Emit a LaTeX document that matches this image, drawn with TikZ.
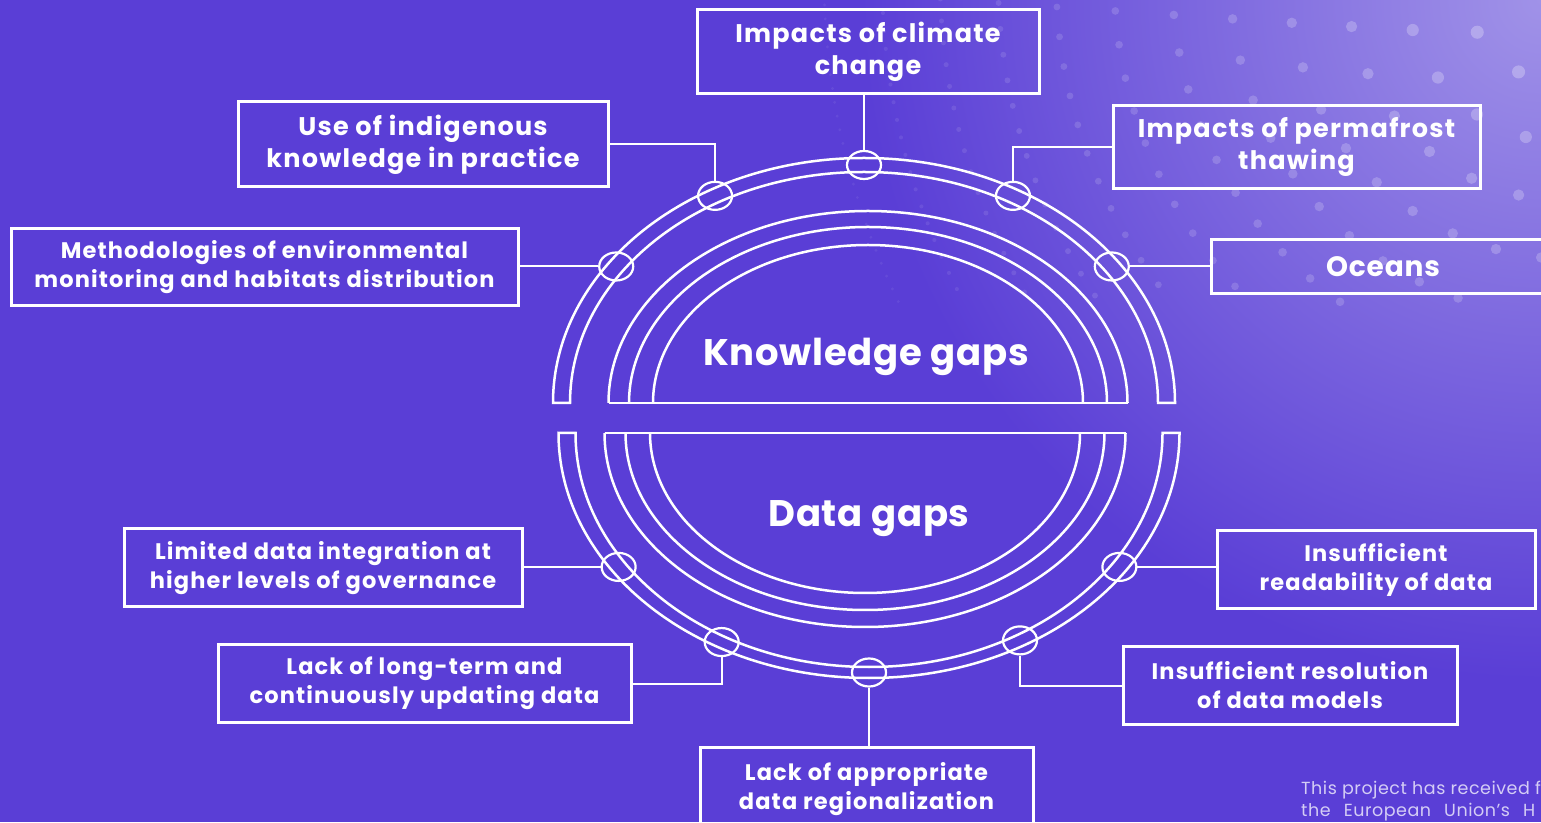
\documentclass[tikz,border=0pt]{standalone}
\usepackage{fontspec}
\setmainfont{Poppins}
\usetikzlibrary{positioning,shapes.geometric,calc}
\definecolor{bgpurple}{RGB}{90,62,214}
\definecolor{glow}{RGB}{160,146,232}
\definecolor{footgray}{RGB}{212,205,245}

\begin{document}
\begin{tikzpicture}[x=1pt,y=1pt,
    ln/.style={white, line width=2.5pt},
    link/.style={white, line width=2pt},
    gapbox/.style={draw=white, line width=3pt, text=white, align=center, inner sep=0pt,
      font=\bfseries\fontsize{22.5}{29}\selectfont\addfontfeatures{LetterSpace=5}},
    topbox/.style={gapbox, font=\bfseries\fontsize{25.5}{32}\selectfont\addfontfeatures{LetterSpace=5}},
    oval/.style={ellipse, draw=white, line width=2.2pt, minimum width=34pt, minimum height=28pt, inner sep=0pt},
    title/.style={text=white, font=\bfseries\fontsize{37}{44}\selectfont\addfontfeatures{LetterSpace=2}}]

  % background
  \fill[bgpurple] (0,0) rectangle (1541,822);
  \useasboundingbox (0,0) rectangle (1541,822);
  \shade[inner color=glow, outer color=bgpurple] (1541,822) circle[radius=680];
  \foreach \i in {0,...,12}{
    \pgfmathsetmacro{\R}{50+58*\i}
    \pgfmathsetmacro{\st}{(62-4*\i)/\R*57.3}
    \pgfmathsetmacro{\nx}{180+\st}
    \pgfmathsetmacro{\dr}{7-0.45*\i}
    \foreach \a in {180,\nx,...,272}{
      \pgfmathsetmacro{\py}{845+\R*sin(\a)}
      \pgfmathsetmacro{\op}{(0.28-0.018*\i)*(\py>520)}
      \fill[white, opacity=\op] (1570+\R*cos \a, \py) circle[radius=\dr];
    }
  }

  % Knowledge gaps (upper half)
  \begin{scope}[shift={(864,419)}]
    \draw[ln] (-311,0) arc[start angle=180, end angle=0, x radius=311, y radius=245]
      -- (294,0) arc[start angle=0, end angle=180, x radius=294, y radius=231] -- cycle;
    \node[oval] (ok1) at (145:302.5 and 238) {};
    \node[oval] (ok2) at (119.5:302.5 and 238) {};
    \node[oval] (ok3) at (90:302.5 and 238) {};
    \node[oval] (ok4) at (60.5:302.5 and 238) {};
    \node[oval] (ok5) at (35:302.5 and 238) {};
  \end{scope}
  \begin{scope}[shift={(868,419)}]
    \draw[ln] (-259.5,0) -- (259.5,0);
    \foreach \rx/\ry in {259.5/192, 239/176, 215/158}
      \draw[ln] (\rx,0) arc[start angle=0, end angle=180, x radius=\rx, y radius=\ry];
  \end{scope}
  \node[title] (know) at (866,465) {Knowledge gaps};

  % Data gaps (lower half)
  \begin{scope}[shift={(869,389)}]
    \draw[ln] (-310.5,0) arc[start angle=180, end angle=360, x radius=310.5, y radius=245]
      -- (293.5,0) arc[start angle=360, end angle=180, x radius=293.5, y radius=234] -- cycle;
    \node[oval] (od1) at (214:302 and 239.5) {};
    \node[oval] (od2) at (240.8:302 and 239.5) {};
    \node[oval] (od3) at (270:302 and 239.5) {};
    \node[oval] (od4) at (300:302 and 239.5) {};
    \node[oval] (od5) at (326:302 and 239.5) {};
  \end{scope}
  \begin{scope}[shift={(865,389)}]
    \draw[ln] (-260.5,0) -- (260.5,0);
    \foreach \rx/\ry in {260.5/194, 239.5/177, 215/160}
      \draw[ln] (-\rx,0) arc[start angle=180, end angle=360, x radius=\rx, y radius=\ry];
  \end{scope}
  \node[title] (data) at (869,303) {Data gaps};

  % Define nodes
  \node[topbox, minimum width=342, minimum height=84] (climate) at (868,770) {Impacts of climate\\change};
  \node[topbox, minimum width=370, minimum height=85] (indigenous) at (423,677.5) {Use of indigenous\\knowledge in practice};
  \node[topbox, minimum width=367, minimum height=83] (permafrost) at (1296.5,674.5) {Impacts of permafrost\\thawing};
  \node[gapbox, minimum width=507, minimum height=77] (methods) at (264.5,554.5) {Methodologies of environmental\\monitoring and habitats distribution};
  \node[topbox, font=\bfseries\fontsize{28}{32}\selectfont\addfontfeatures{LetterSpace=3}, minimum width=344, minimum height=54] (oceans) at (1383,555) {Oceans};
  \node[gapbox, minimum width=398, minimum height=78] (limited) at (323,254) {Limited data integration at\\higher levels of governance};
  \node[gapbox, minimum width=318, minimum height=78] (readability) at (1376,252) {Insufficient\\readability of data};
  \node[gapbox, minimum width=413, minimum height=77] (longterm) at (424.5,138.5) {Lack of long-term and\\continuously updating data};
  \node[gapbox, minimum width=334, minimum height=77] (resolution) at (1290,136.5) {Insufficient resolution\\of data models};
  \node[gapbox, anchor=north, minimum width=333, minimum height=84] (regional) at (866.5,76) {Lack of appropriate\\data regionalization};
  \node[anchor=north west, inner sep=0pt, text=footgray, align=left,
    font=\fontsize{17.5}{22}\selectfont\addfontfeatures{LetterSpace=3}] (footer) at (1301,41)
    {This project has received f\\the\hspace{0.75em}European\hspace{0.75em}Union’s\hspace{0.75em}H};

  % Draw edges
  \draw[link] (ok3.north) -- (ok3.north |- climate.south);
  \draw[link] (ok2.north) |- (indigenous.east);
  \draw[link] (ok4.north) |- (permafrost.west);
  \draw[link] (ok1.west) -- (ok1.west -| methods.east);
  \draw[link] (ok5.east) -- (ok5.east -| oceans.west);
  \draw[link] (od1.west) -- (od1.west -| limited.east);
  \draw[link] (od2.south) |- (longterm.east);
  \draw[link] (od3.south) -- (od3.south |- regional.north);
  \draw[link] (od4.south) |- (resolution.west);
  \draw[link] (od5.east) -- (od5.east -| readability.west);
\end{tikzpicture}
\end{document}
